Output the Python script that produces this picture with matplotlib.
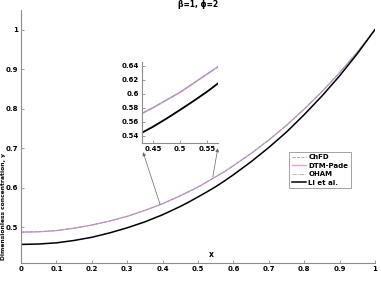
import matplotlib
matplotlib.use('Agg')
import matplotlib.pyplot as plt
import numpy as np

# data (denser around the zoomed window)
x = [0.0, 0.05, 0.1, 0.15, 0.2, 0.25, 0.3, 0.35, 0.4, 0.425, 0.45, 0.475, 0.5,
     0.525, 0.55, 0.575, 0.6, 0.65, 0.7, 0.75, 0.8, 0.85, 0.9, 0.95, 1.0]
chfd = [0.488, 0.489, 0.492, 0.498, 0.506, 0.516, 0.528, 0.543, 0.560, 0.570, 0.580,
        0.591, 0.602, 0.615, 0.628, 0.641, 0.656, 0.687, 0.721, 0.758, 0.799, 0.843,
        0.891, 0.943, 1.0]
dtm_pade = [0.488, 0.489, 0.492, 0.498, 0.506, 0.516, 0.528, 0.543, 0.560, 0.570, 0.580,
            0.591, 0.602, 0.615, 0.628, 0.641, 0.656, 0.687, 0.721, 0.758, 0.799, 0.843,
            0.891, 0.943, 1.0]
oham = [0.488, 0.489, 0.492, 0.498, 0.506, 0.516, 0.528, 0.543, 0.560, 0.570, 0.580,
        0.591, 0.602, 0.615, 0.628, 0.641, 0.656, 0.687, 0.721, 0.758, 0.799, 0.843,
        0.891, 0.943, 1.0]
li = [0.457, 0.458, 0.461, 0.467, 0.475, 0.486, 0.499, 0.514, 0.532, 0.5425, 0.553,
      0.5646, 0.577, 0.5897, 0.603, 0.6176, 0.633, 0.666, 0.702, 0.741, 0.785, 0.832,
      0.883, 0.939, 1.0]
labels = ['ChFD', 'DTM-Pade', 'OHAM', 'Li et al.']

xticks = [0, 0.1, 0.2, 0.3, 0.4, 0.5, 0.6, 0.7, 0.8, 0.9, 1]
xtick_labels = ['0', '0.1', '0.2', '0.3', '0.4', '0.5', '0.6', '0.7', '0.8', '0.9', '1']
yticks = [0.5, 0.6, 0.7, 0.8, 0.9, 1.0]
ytick_labels = ['0.5', '0.6', '0.7', '0.8', '0.9', '1']
inset_xticks = [0.45, 0.5, 0.55]
inset_yticks = [0.54, 0.56, 0.58, 0.6, 0.62, 0.64]

plt.rcParams['font.family'] = ['DejaVu Sans']
plt.rcParams['font.weight'] = 'bold'
gray = '#8c8c8c'


def draw(ax, lw_scale=1.0):
    ax.plot(x, dtm_pade, '-', color='#e0a0e0', lw=1.0 * lw_scale)
    ax.plot(x, chfd, '--', color='#9a9ac8', lw=0.6 * lw_scale)
    ax.plot(x, oham, '-.', color='#a0a0a0', lw=0.5 * lw_scale)
    ax.plot(x, li, '-', color='black', lw=1.1 * lw_scale)


def style(ax, size):
    for s in ['top', 'right']:
        ax.spines[s].set_visible(False)
    for s in ['left', 'bottom']:
        ax.spines[s].set_color(gray)
        ax.spines[s].set_linewidth(0.8)
    ax.tick_params(direction='in', length=2.5, width=0.6, color=gray,
                   labelsize=size, pad=2)


fig = plt.figure(figsize=(3.81, 2.86), dpi=100)
ax = fig.add_axes([0.0551, 0.0804, 0.929, 0.885])
draw(ax)
lines = ax.get_lines()
ax.set_xlim(0, 1)
ax.set_ylim(0.41, 1.05)
ax.set_xticks(xticks)
ax.set_xticklabels(xtick_labels)
ax.set_yticks(yticks)
ax.set_yticklabels(ytick_labels)
style(ax, 5)
ax.text(0.5, 1.02, 'β=1, ϕ=2', transform=ax.transAxes, ha='center', va='center',
        fontsize=5.5, fontweight='bold')
ax.text(0.537, 0.032, 'x', transform=ax.transAxes, ha='center', va='center',
        fontsize=5.5, fontweight='bold')
ax.text(-0.049, 0.225, 'Dimensionless concentration, y', transform=ax.transAxes,
        ha='center', va='center', rotation=90, fontsize=4.3, fontweight='bold')

leg = ax.legend([lines[1], lines[0], lines[2], lines[3]], labels,
                loc='upper left', bbox_to_anchor=(0.757, 0.44), fontsize=5,
                frameon=True, fancybox=False, handlelength=2.0, handletextpad=0.4,
                labelspacing=0.35, borderpad=0.4, borderaxespad=0)
leg.get_frame().set_edgecolor(gray)
leg.get_frame().set_linewidth(0.7)
for t in leg.get_texts():
    t.set_fontweight('bold')

# arrows from the curve to the inset
ax.annotate('', xy=(0.345, 0.69), xytext=(0.393, 0.558),
            arrowprops=dict(arrowstyle='-|>', color='#666666', lw=0.5,
                            mutation_scale=5, shrinkA=0, shrinkB=0))
ax.annotate('', xy=(0.556, 0.70), xytext=(0.542, 0.628),
            arrowprops=dict(arrowstyle='-|>', color='#666666', lw=0.5,
                            mutation_scale=5, shrinkA=0, shrinkB=0))

ins = fig.add_axes([0.3727, 0.5, 0.1995, 0.283])
draw(ins, 1.2)
ins.set_xlim(0.43, 0.57)
ins.set_ylim(0.53, 0.645)
ins.set_xticks(inset_xticks)
ins.set_xticklabels(['0.45', '0.5', '0.55'])
ins.set_yticks(inset_yticks)
ins.set_yticklabels(['0.54', '0.56', '0.58', '0.6', '0.62', '0.64'])
style(ins, 5)

fig.savefig('out.png', dpi=100)
